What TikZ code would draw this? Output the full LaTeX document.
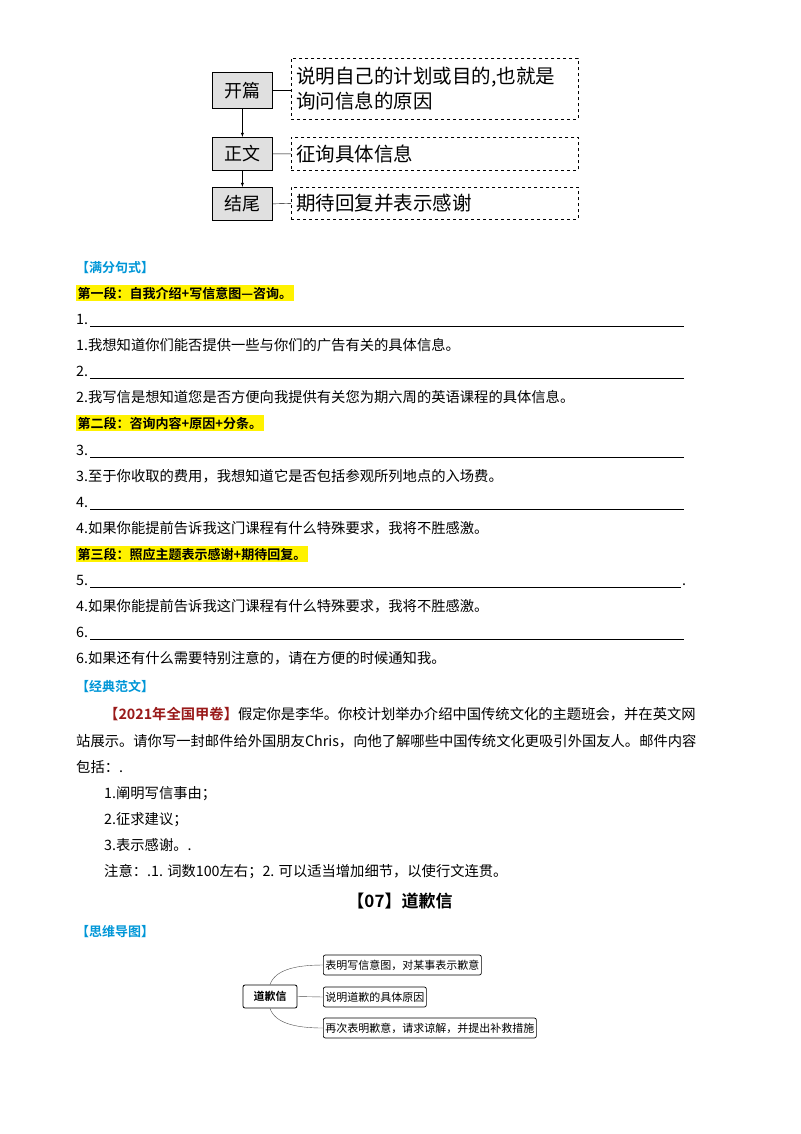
\documentclass[tikz,border=0pt]{standalone}
\usepackage{fontspec}
\setmainfont{Liberation Serif}
\newfontfamily\cjk{Noto Sans CJK SC}
\newfontfamily\cjkb{Noto Sans CJK SC Bold}
\begin{document}
\begin{tikzpicture}[x=1pt,y=-1pt,
  txt/.style={anchor=base west,inner sep=0pt,font=\cjk\fontsize{14.3}{15}\selectfont},
  head/.style={anchor=base west,inner sep=0pt,font=\cjkb\fontsize{13}{14}\selectfont,text={rgb,255:red,0;green,150;blue,215}},
  hl/.style={anchor=base west,inner sep=1.5pt,fill=yellow,font=\cjkb\fontsize{13}{14}\selectfont},
  gbox/.style={draw,fill=black!12,line width=0.8pt,font=\cjk\fontsize{18}{19}\selectfont,inner sep=0pt,minimum width=60,anchor=north west},
  dbox/.style={draw,dashed,line width=0.7pt,font=\cjk\fontsize{19.5}{25}\selectfont,inner sep=0pt,anchor=north west,text width=287,align=left},
  mbox/.style={draw,rounded corners=2pt,line width=0.7pt,font=\cjk\fontsize{11}{12}\selectfont,inner sep=2pt,anchor=west,minimum height=20},
  uline/.style={line width=0.6pt}]
\useasboundingbox (0,0) rectangle (800,1134);
% top diagram
\node[gbox,minimum height=36] (kp) at (212,72) {开篇};
\node[gbox,minimum height=33] (zw) at (212,137) {正文};
\node[gbox,minimum height=33] (jw) at (212,187) {结尾};
\node[dbox,minimum height=61] (d1) at (291,58) {\hspace*{5pt}说明自己的计划或目的,也就是\\\hspace*{5pt}询问信息的原因};
\node[dbox,minimum height=33] (d2) at (291,137) {\hspace*{5pt}征询具体信息};
\node[dbox,minimum height=32] (d3) at (291,187) {\hspace*{5pt}期待回复并表示感谢};
\draw[-latex] (kp) -- (zw);
\draw[-latex] (zw) -- (jw);
\draw (kp.east) -- (kp.east -| d1.west);
\draw (zw.east) -- (d2.west);
\draw (jw.east) -- (d3.west);
% sentences
\node[head] (h1) at (76,272) {【满分句式】};
\node[hl] (p1) at (76,298) {第一段：自我介绍+写信意图—咨询。};
\node[txt] (n1) at (76,324) {1.}; \draw[uline] (90,326) -- (684,326);
\node[txt] (s1) at (76,350) {1.我想知道你们能否提供一些与你们的广告有关的具体信息。};
\node[txt] (n2) at (76,376) {2.}; \draw[uline] (90,378) -- (684,378);
\node[txt] (s2) at (76,402) {2.我写信是想知道您是否方便向我提供有关您为期六周的英语课程的具体信息。};
\node[hl] (p2) at (76,428) {第二段：咨询内容+原因+分条。};
\node[txt] (n3) at (76,455) {3.}; \draw[uline] (90,457) -- (684,457);
\node[txt] (s3) at (76,481) {3.至于你收取的费用，我想知道它是否包括参观所列地点的入场费。};
\node[txt] (n4) at (76,507) {4.}; \draw[uline] (90,509) -- (684,509);
\node[txt] (s4) at (76,533) {4.如果你能提前告诉我这门课程有什么特殊要求，我将不胜感激。};
\node[hl] (p3) at (76,559) {第三段：照应主题表示感谢+期待回复。};
\node[txt] (n5) at (76,585) {5.}; \draw[uline] (90,587) -- (681,587); \node[txt] (dot) at (682,585) {.};
\node[txt] (s5) at (76,611) {4.如果你能提前告诉我这门课程有什么特殊要求，我将不胜感激。};
\node[txt] (n6) at (76,637) {6.}; \draw[uline] (90,639) -- (684,639);
\node[txt] (s6) at (76,663) {6.如果还有什么需要特别注意的，请在方便的时候通知我。};
\node[head] (h2) at (76,691) {【经典范文】};
\node[txt] (e1) at (104,719) {{\cjkb\color[rgb]{0.6,0.1,0.1}【2021年全国甲卷】}假定你是李华。你校计划举办介绍中国传统文化的主题班会，并在英文网};
\node[txt] (e2) at (76,746) {站展示。请你写一封邮件给外国朋友Chris，向他了解哪些中国传统文化更吸引外国友人。邮件内容};
\node[txt] (e3) at (76,772) {包括：.};
\node[txt] (e4) at (104,798) {1.阐明写信事由；};
\node[txt] (e5) at (104,824) {2.征求建议；};
\node[txt] (e6) at (104,850) {3.表示感谢。.};
\node[txt] (e7) at (104,876) {注意：.1. 词数100左右；2. 可以适当增加细节，以使行文连贯。};
\node[anchor=base,inner sep=0pt,font=\cjkb\fontsize{17}{18}\selectfont] (t7) at (400,907) {【07】道歉信};
\node[head] (h3) at (76,936) {【思维导图】};
% mind map
\node[draw,rounded corners=2pt,line width=0.8pt,font=\cjkb\fontsize{11}{12}\selectfont,minimum width=54,minimum height=23,inner sep=0pt] (root) at (270,996.5) {道歉信};
\node[mbox] (b1) at (323,965) {表明写信意图，对某事表示歉意};
\node[mbox] (b2) at (323,997) {说明道歉的具体原因};
\node[mbox] (b3) at (323,1028) {再次表明歉意，请求谅解，并提出补救措施};
\draw[black!70] (root.north) .. controls (275,970) and (295,965) .. (b1.west);
\draw[black!70] (root.east) -- (b2.west);
\draw[black!70] (root.south) .. controls (275,1023) and (295,1028) .. (b3.west);
\end{tikzpicture}
\end{document}
